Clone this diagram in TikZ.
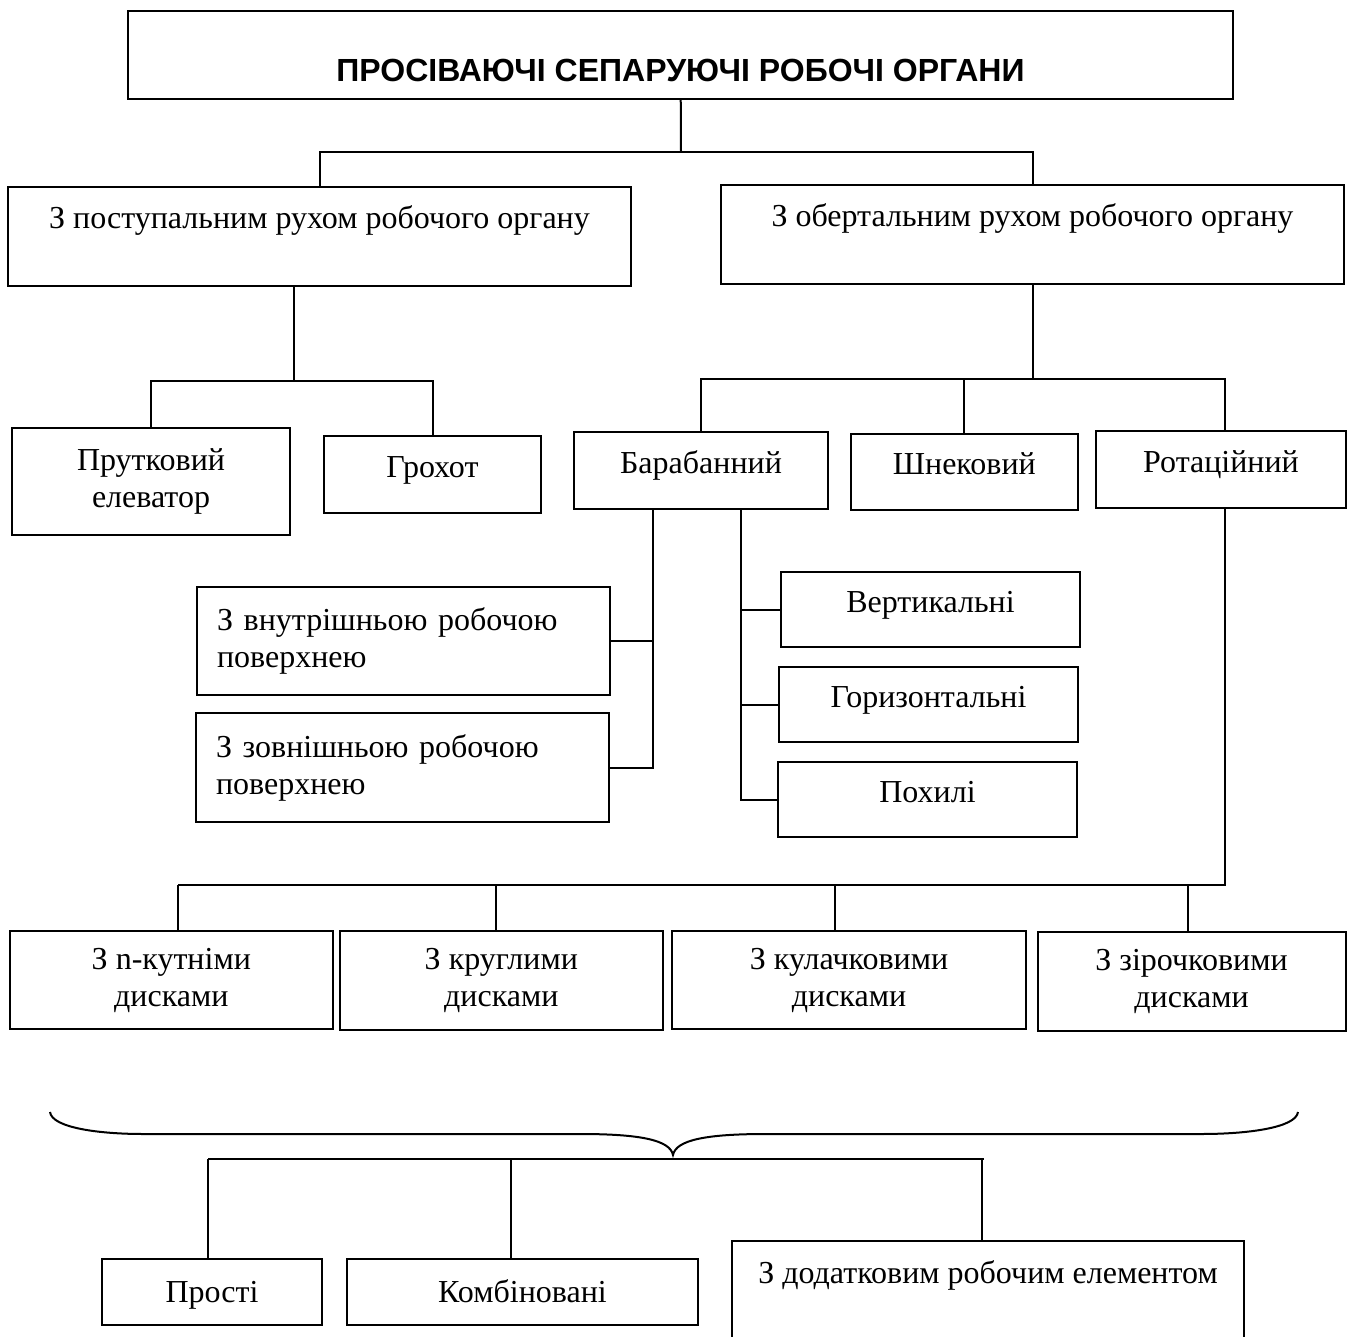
\documentclass[tikz,border=0pt]{standalone}
\usepackage{fontspec}
\setmainfont{Liberation Serif}
\newfontfamily\headfont{Liberation Sans}
\begin{document}
\begin{tikzpicture}[x=1pt,y=-1pt,line width=2pt,
every node/.style={font=\fontsize{32}{37}\selectfont},
box/.style={draw,line width=2pt,inner sep=0pt,text height=18pt,text depth=12pt},
twobox/.style={draw,line width=2pt,inner sep=0pt,align=center},
leftbox/.style={draw,line width=2pt,inner sep=0pt,align=left},
topbox/.style={draw,line width=2pt,inner sep=0pt,text height=42pt}]
\useasboundingbox (0,0) rectangle (1355,1337);
\clip (0,0) rectangle (1355,1337);
\node[topbox,minimum width=1105pt,text height=71pt,text depth=17pt,font=\headfont\bfseries\fontsize{32}{37}\selectfont] (title) at (680.5,55) {ПРОСІВАЮЧІ СЕПАРУЮЧІ РОБОЧІ ОРГАНИ};
\node[topbox,minimum width=623pt,text depth=57pt] (post) at (319.5,236.5) {З поступальним рухом робочого органу};
\node[topbox,minimum width=623pt,text depth=57pt] (obert) at (1032.5,234.5) {З обертальним рухом робочого органу};
\node[twobox,minimum width=278pt,minimum height=107pt] (prut) at (151,481.5) {Прутковий\\елеватор};
\node[box,minimum width=217pt,minimum height=77pt] (hrokh) at (432.5,474.5) {Грохот};
\node[box,minimum width=254pt,minimum height=77pt] (baraban) at (701,470.5) {Барабанний};
\node[box,minimum width=227pt,minimum height=76pt] (shnek) at (964.3,472) {Шнековий};
\node[box,minimum width=250pt,minimum height=77pt] (rotats) at (1221,469.5) {Ротаційний};
\node[leftbox,text width=373pt,minimum width=413pt,minimum height=108pt] (vnutr) at (403.5,641) {З внутрішньою робочою\\поверхнею};
\node[leftbox,text width=373pt,minimum width=413pt,minimum height=109pt] (zovn) at (402.5,767.5) {З зовнішньою робочою\\поверхнею};
\node[box,minimum width=299pt,minimum height=75pt] (vert) at (930.5,609.5) {Вертикальні};
\node[box,minimum width=299pt,minimum height=75pt] (horiz) at (928.5,704.5) {Горизонтальні};
\node[box,minimum width=299pt,minimum height=75pt] (pokh) at (927.5,799.5) {Похилі};
\node[twobox,minimum width=323pt,minimum height=98pt] (nkut) at (171.3,980) {З n-кутніми\\дисками};
\node[twobox,minimum width=323pt,minimum height=99pt] (krugl) at (501.3,980.5) {З круглими\\дисками};
\node[twobox,minimum width=354pt,minimum height=98pt] (kulach) at (849,980) {З кулачковими\\дисками};
\node[twobox,minimum width=308pt,minimum height=99pt] (zir) at (1191.5,981) {З зірочковими\\дисками};
\node[box,minimum width=220pt,minimum height=66pt,text height=32pt] (prosti) at (212,1292) {Прості};
\node[box,minimum width=351pt,minimum height=66pt,text height=32pt] (kombin) at (522.5,1292) {Комбіновані};
\node[topbox,minimum width=512pt,text depth=78pt] (dodat) at (988,1301) {З додатковим робочим елементом};
\coordinate (j1) at (681,152);
\coordinate (j2) at (294,381);
\coordinate (j3) at (1032.5,379);
\coordinate (j4) at ([xshift=-48pt]baraban.south);
\coordinate (j5) at ([xshift=40pt]baraban.south);
\coordinate (j6) at (178,885);
\coordinate (j7) at (208,1159);
\coordinate (j8) at (984,1159);
\draw (title) -- (j1);
\draw (post.north) |- (j1) -| (obert.north);
\draw (post.south -| j2) -- (j2);
\draw (prut.north) |- (j2) -| (hrokh.north);
\draw (obert.south) -- (j3);
\draw (baraban.north) |- (j3) -| ([xshift=4pt]rotats.north);
\draw (shnek.north) -- (shnek.north |- j3);
\draw (j4) |- (zovn.east);
\draw (vnutr.east) -- (vnutr.east -| j4);
\draw (j5) |- (pokh.west);
\draw (vert.west) -- (vert.west -| j5);
\draw (horiz.west) -- (horiz.west -| j5);
\draw ([xshift=4pt]rotats.south) |- (j6);
\foreach \n/\x in {nkut/178,krugl/496,kulach/835,zir/1188}
  {\path (\x,885) coordinate (b); \draw (b) -- (b |- \n.north);}
\draw (50,1112) .. controls (52,1128) and (100,1134) .. (143,1134) -- (580,1134) .. controls (640,1134) and (670,1140) .. (673,1155) .. controls (676,1140) and (706,1134) .. (766,1134) -- (1202,1134) .. controls (1246,1134) and (1296,1128) .. (1298,1112);
\draw (j7) -- (j8);
\foreach \n/\x in {prosti/208,kombin/511,dodat/982}
  {\path (\x,1159) coordinate (b); \draw (b) -- (b |- \n.north);}
\end{tikzpicture}
\end{document}
